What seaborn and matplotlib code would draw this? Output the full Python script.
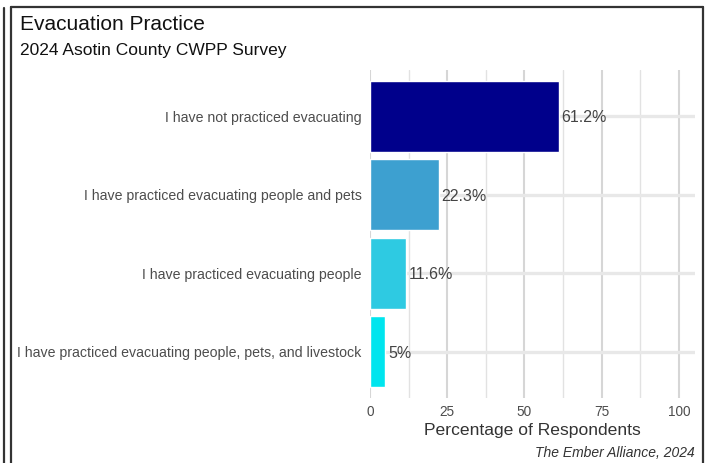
import matplotlib
matplotlib.use("Agg")
import matplotlib.pyplot as plt
from matplotlib.lines import Line2D
import seaborn as sns
import pandas as pd

responses = [
    "I have not practiced evacuating",
    "I have practiced evacuating people and pets",
    "I have practiced evacuating people",
    "I have practiced evacuating people, pets, and livestock",
]
percentages = [61.2, 22.3, 11.6, 5.0]
bar_colors = ["#00008B", "#3DA0D0", "#2ECAE2", "#00E5EE"]
x_ticks = [0, 25, 50, 75, 100]

W, H = 708, 463
DPI = 100

sns.set_theme(style="white")
plt.rcParams["font.family"] = ["Liberation Sans", "DejaVu Sans"]

df = pd.DataFrame({"response": responses, "pct": percentages})

fig = plt.figure(figsize=(W / DPI, H / DPI), dpi=DPI)
fig.patch.set_facecolor("white")


def px_x(x):
    return x / W


def px_y(y):
    return 1 - y / H


left, right, top, bottom = 370, 695, 70, 398
ax = fig.add_axes([px_x(left), px_y(bottom), (right - left) / W, (bottom - top) / H])

sns.barplot(
    data=df, x="pct", y="response", hue="response", palette=bar_colors,
    width=0.9, legend=False, ax=ax, orient="h", saturation=1, zorder=3,
)

ax.set_xlim(0, 105.2)
ax.set_ylim(3.59, -0.59)
ax.set_xticks(x_ticks)
ax.set_xticks([12.5, 37.5, 62.5, 87.5], minor=True)
ax.grid(axis="x", which="major", color="#d6d6d6", lw=1.5, zorder=0)
ax.grid(axis="x", which="minor", color="#e2e2e2", lw=1.0, zorder=0)
ax.grid(axis="y", which="major", color="#e8e8e8", lw=2.4, zorder=0)
ax.set_axisbelow(True)
for s in ax.spines.values():
    s.set_visible(False)

ax.tick_params(axis="x", which="both", length=0, pad=5, labelsize=9.8, labelcolor="#4d4d4d")
ax.tick_params(axis="y", length=0, pad=6, labelsize=10.2, labelcolor="#4d4d4d")
ax.set_ylabel("")
ax.set_xlabel("")

for i, v in enumerate(percentages):
    ax.text(v + 0.8, i + 0.02, f"{v:g}%", va="center", ha="left",
            fontsize=11.5, color="#444444", zorder=4)

fig.text(px_x(532), px_y(431), "Percentage of Respondents", ha="center", va="center",
         fontsize=12.6, color="#333333")
fig.text(px_x(695), px_y(453), "The Ember Alliance, 2024", ha="right", va="center",
         fontsize=10, style="italic", color="#333333")
fig.text(px_x(20), px_y(24), "Evacuation Practice", ha="left", va="center",
         fontsize=15, color="#111111")
fig.text(px_x(20), px_y(51), "2024 Asotin County CWPP Survey", ha="left", va="center",
         fontsize=12.5, color="#111111")

# outer frame
frame_kw = dict(color="#333333", lw=1.6, transform=fig.transFigure)
fig.add_artist(Line2D([px_x(11), px_x(703)], [px_y(7), px_y(7)], **frame_kw))
fig.add_artist(Line2D([px_x(11), px_x(11)], [px_y(7), 0], **frame_kw))
fig.add_artist(Line2D([px_x(703), px_x(703)], [px_y(7), 0], **frame_kw))
fig.add_artist(Line2D([px_x(4), px_x(4)], [px_y(8), 0], **frame_kw))

fig.savefig("out.png", dpi=DPI)
